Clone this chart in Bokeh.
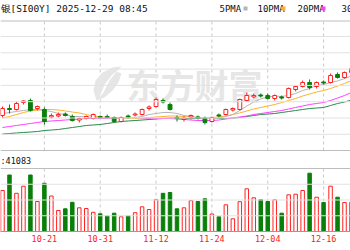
from bokeh.plotting import figure
from bokeh.layouts import column
from bokeh.models import Range1d, FixedTicker, Span, ColumnDataSource
from bokeh.core.properties import value
from bokeh.embed import file_html
from bokeh.resources import INLINE

# ---------------- data ----------------
dates = ["10-13", "10-14", "10-15", "10-16", "10-17", "10-20", "10-21", "10-22", "10-23", "10-24",
         "10-27", "10-28", "10-29", "10-30", "10-31", "11-03", "11-04", "11-05", "11-06", "11-07",
         "11-10", "11-11", "11-12", "11-13", "11-14", "11-17", "11-18", "11-19", "11-20", "11-21",
         "11-24", "11-25", "11-26", "11-27", "11-28", "12-01", "12-02", "12-03", "12-04", "12-05",
         "12-08", "12-09", "12-10", "12-11", "12-12", "12-15", "12-16", "12-17", "12-18", "12-19",
         "12-22"]
open_ = [46.25, 48.0, 47.75, 49.5, 50.0, 48.0, 47.75, 45.88, 46.12, 46.62, 46.0, 45.12, 45.5, 45.5,
         46.0, 46.0, 45.75, 44.75, 46.12, 46.38, 46.5, 48.0, 48.5, 50.0, 49.0, 45.75, 45.25, 45.88,
         45.88, 45.5, 44.75, 46.38, 46.5, 47.62, 47.75, 50.0, 50.88, 51.38, 51.25, 50.5, 50.88, 50.75,
         52.75, 53.5, 54.5, 53.5, 54.62, 54.5, 56.5, 55.75, 57.0]
high = [48.5, 49.0, 49.75, 50.0, 50.5, 48.75, 48.25, 46.75, 47.0, 47.0, 46.5, 45.75, 46.25, 46.75,
        46.25, 46.5, 46.0, 46.0, 46.5, 47.0, 48.0, 48.75, 50.75, 50.5, 49.5, 46.25, 46.0, 46.5, 46.25,
        46.0, 46.0, 46.75, 48.0, 48.25, 50.5, 52.0, 51.75, 51.75, 51.75, 51.5, 51.25, 53.25, 53.75,
        55.0, 55.25, 54.75, 55.0, 56.75, 57.0, 57.25, 58.5]
low = [45.75, 46.75, 47.5, 49.0, 47.25, 47.5, 44.0, 45.5, 45.75, 46.0, 44.75, 44.5, 45.25, 45.25,
       45.5, 45.5, 44.5, 44.5, 45.5, 46.0, 46.25, 47.5, 48.25, 49.25, 47.5, 44.75, 44.75, 45.25, 45.25,
       44.0, 44.5, 45.75, 46.25, 47.25, 47.5, 49.75, 50.5, 50.75, 50.25, 50.0, 50.25, 50.5, 52.25,
       53.25, 52.75, 53.0, 54.0, 54.25, 55.5, 55.5, 56.75]
close = [48.0, 47.75, 49.25, 49.88, 47.5, 48.5, 44.75, 46.25, 46.5, 46.25, 45.0, 45.5, 46.0, 46.5,
         45.75, 45.75, 44.75, 45.75, 45.88, 46.62, 47.75, 48.38, 50.25, 49.62, 47.75, 45.5, 45.62,
         46.25, 45.62, 44.5, 45.75, 46.12, 47.75, 48.0, 50.25, 51.25, 51.25, 51.12, 50.5, 51.25, 50.62,
         53.0, 53.5, 54.5, 53.25, 54.5, 54.38, 56.25, 55.75, 57.0, 58.0]
ma5 = [46.75, 47.0, 47.25, 47.5, 47.75, 47.75, 47.5, 47.25, 46.75, 46.5, 46.0, 46.0, 45.88, 45.75,
       45.75, 45.75, 45.75, 45.75, 45.62, 45.75, 46.0, 46.5, 46.75, 47.0, 47.0, 46.75, 46.25, 46.0,
       45.75, 45.5, 45.5, 45.62, 46.0, 46.5, 47.5, 48.62, 49.62, 50.38, 50.88, 51.08, 51.0, 51.3,
       51.75, 52.5, 53.0, 53.75, 54.0, 54.5, 54.88, 55.5, 56.12]
ma10 = [45.62, 46.0, 46.5, 47.0, 47.38, 47.62, 47.75, 47.75, 47.62, 47.38, 47.12, 46.88, 46.5, 46.12,
        45.88, 45.75, 45.62, 45.62, 45.5, 45.5, 45.62, 45.75, 45.88, 46.0, 46.12, 46.12, 46.0, 45.88,
        45.75, 45.75, 45.75, 45.88, 46.12, 46.5, 46.88, 47.38, 47.88, 48.25, 48.62, 49.0, 49.5, 50.0,
        50.5, 51.12, 51.62, 52.12, 52.5, 53.0, 53.62, 54.25, 55.0]
ma20 = [43.25, 43.5, 43.75, 44.0, 44.25, 44.5, 44.75, 44.88, 45.0, 45.12, 45.25, 45.38, 45.5, 45.5,
        45.5, 45.5, 45.5, 45.5, 45.5, 45.5, 45.5, 45.5, 45.5, 45.5, 45.5, 45.38, 45.25, 45.12, 45.0,
        45.0, 45.0, 45.12, 45.38, 45.62, 45.88, 46.12, 46.5, 46.75, 47.0, 47.25, 47.5, 47.88, 48.25,
        48.62, 49.0, 49.25, 49.5, 50.0, 50.62, 51.25, 52.0]
ma30 = [41.62, 41.75, 41.88, 42.0, 42.12, 42.25, 42.5, 42.62, 42.75, 43.0, 43.25, 43.5, 43.75, 43.88,
        44.0, 44.25, 44.5, 44.75, 44.88, 45.0, 45.12, 45.25, 45.38, 45.5, 45.62, 45.62, 45.5, 45.5,
        45.5, 45.5, 45.5, 45.5, 45.5, 45.62, 45.75, 46.0, 46.25, 46.5, 46.62, 46.75, 47.0, 47.25,
        47.5, 47.75, 48.0, 48.12, 48.25, 48.75, 49.25, 49.62, 50.12]
volume = [57400, 79100, 53480, 63420, 79100, 42000, 67480, 49700, 29400, 31780, 40880, 33180, 32200,
          26880, 24780, 21700, 25620, 20580, 21700, 26320, 34580, 30800, 44520, 53480, 54600, 31780,
          33180, 43120, 42000, 45780, 24500, 20580, 37380, 17780, 41720, 59780, 47180, 44380, 42000,
          44380, 25620, 51380, 52220, 57400, 81620, 48020, 40600, 63420, 48020, 40600, 41083]
label_dates = ["10-21", "10-31", "11-12", "11-24", "12-04", "12-16"]
legend_labels = ["5PMA", "10PMA", "20PMA", "30PMA"]
ma_colors = ["#b4b4b4", "#ffb02e", "#ff40ff", "#2a8a4a"]
header_text = "银[SI00Y] 2025-12-29 08:45"
vol_text = ":41083"
watermark = "东方财富"

for arr in (open_, high, low, close, ma5, ma10, ma20, ma30, volume):
    assert len(arr) == len(dates)

# ---------------- geometry (layout only) ----------------
BAR_PX = 6.98
X0 = -2.0 / BAR_PX
X1 = X0 + 350.0 / BAR_PX
P_TOP = 75.0          # price at the top pixel row
PX_PER_UNIT = 4.0
P_BOT = P_TOP - 151 / PX_PER_UNIT
VOL_PER_PX = 1400.0


def px_x(px):
    return X0 + px / BAR_PX


def py_price(py):
    return P_TOP - py / PX_PER_UNIT


RED = "#ff2020"
GREEN = "#0a7f0a"
GRID = "#e2e2e2"
VGRID = "#c8c8c8"
BORDER = "#bdbdbd"
WM = "#e6e6e6"

idx = list(range(len(dates)))
up = [c >= o for o, c in zip(open_, close)]
src = ColumnDataSource(dict(
    x=idx, open=open_, high=high, low=low, close=close,
    top=[max(o, c) for o, c in zip(open_, close)],
    bottom=[min(o, c) for o, c in zip(open_, close)],
    line=[RED if u else GREEN for u in up],
    fill=["white" if u else GREEN for u in up],
    vol=volume,
))
tick_idx = [dates.index(d) for d in label_dates]

# ---------------- price panel ----------------
pA = figure(width=350, height=151, x_range=Range1d(X0, X1), y_range=Range1d(P_BOT, P_TOP),
            x_axis_location=None, y_axis_location=None, toolbar_location=None,
            output_backend="svg", min_border=0, outline_line_color=None)
pA.xgrid.visible = False
pA.ygrid.visible = False

for py in [36.0, 52.3, 68.6, 84.9, 101.2, 117.5, 133.8]:
    pA.add_layout(Span(location=py_price(py), dimension="width", line_color=GRID, line_width=1))
pA.add_layout(Span(location=py_price(20.5), dimension="width", line_color=BORDER, line_width=1))
pA.add_layout(Span(location=py_price(150.0), dimension="width", line_color=BORDER, line_width=1))
pA.segment(x0=tick_idx, x1=tick_idx, y0=[py_price(150.0)] * len(tick_idx),
           y1=[py_price(20.5)] * len(tick_idx), line_color=VGRID, line_dash="3 3", line_width=1)

# watermark: logo + name
logo_px = [(96, 100), (93, 90), (95, 80), (102, 72), (112, 67), (121, 66), (116, 71),
           (121, 73), (118, 82), (112, 90), (104, 97)]
pA.patch([px_x(a) for a, b in logo_px], [py_price(b) for a, b in logo_px],
         fill_color=WM, line_color=None)
cut_px = [(99, 97), (104, 84), (112, 74), (117, 70), (109, 80), (103, 92)]
pA.patch([px_x(a) for a, b in cut_px], [py_price(b) for a, b in cut_px],
         fill_color="white", line_color=None)
pA.text(x=[px_x(126)], y=[py_price(84)], text=[watermark], text_color=WM,
        text_font=value("Noto Sans CJK SC"), text_font_size=value("34px"),
        text_font_style="bold", text_baseline="middle", text_align="left")

# moving averages
for ma, col in zip([ma30, ma20, ma10, ma5], ma_colors[::-1]):
    pA.line(idx, ma, line_color=col, line_width=1)

# candles
pA.segment(x0="x", x1="x", y0="high", y1="low", line_color="line", line_width=1, source=src)
pA.vbar(x="x", top="top", bottom="bottom", width=0.55, fill_color="fill", line_color="line",
        line_width=1, source=src)

# header and legend
pA.text(x=[px_x(0)], y=[py_price(8)], text=[header_text], text_color="#111111",
        text_font=value("DejaVu Sans Mono"), text_font_size=value("9.5px"),
        text_baseline="middle", text_align="left")
legend_px = [219, 257, 297, 341]
mark_px = [245, 283, 323, 369]
pA.text(x=[px_x(v) for v in legend_px], y=[py_price(8)] * 4, text=legend_labels,
        text_color="#111111", text_font=value("DejaVu Sans Mono"), text_font_size=value("9px"),
        text_baseline="middle", text_align="left")
pA.rect(x=[px_x(v) for v in mark_px], y=[py_price(8)] * 4, width=4, height=4,
        width_units="screen", height_units="screen", fill_color=ma_colors, line_color=None)

# ---------------- volume panel ----------------
pB = figure(width=350, height=99, x_range=pA.x_range, y_range=Range1d(0, 80 * VOL_PER_PX),
            y_axis_location=None, toolbar_location=None, output_backend="svg",
            min_border_left=0, min_border_right=0, min_border_top=0, min_border_bottom=19,
            outline_line_color=None)
pB.xgrid.visible = False
pB.ygrid.visible = False
vol_top = 63 * VOL_PER_PX
for k in (1, 2, 3):
    pB.add_layout(Span(location=vol_top * k / 4, dimension="width", line_color=GRID, line_width=1))
pB.add_layout(Span(location=vol_top, dimension="width", line_color=BORDER, line_width=1))
pB.segment(x0=tick_idx, x1=tick_idx, y0=[0] * len(tick_idx), y1=[vol_top] * len(tick_idx),
           line_color=VGRID, line_dash="3 3", line_width=1)
pB.vbar(x="x", top="vol", bottom=0, width=0.5, fill_color="fill", line_color="line",
        line_width=1, source=src)
pB.text(x=[px_x(0)], y=[(80 - 9) * VOL_PER_PX], text=[vol_text], text_color="#111111",
        text_font=value("DejaVu Sans Mono"), text_font_size=value("8.5px"),
        text_baseline="middle", text_align="left")

ax = pB.xaxis[0]
ax.ticker = FixedTicker(ticks=tick_idx)
ax.major_label_overrides = {i: d for i, d in zip(tick_idx, label_dates)}
ax.major_tick_line_color = None
ax.minor_tick_line_color = None
ax.major_tick_out = 0
ax.major_tick_in = 0
ax.axis_line_color = "#9a9a9a"
ax.major_label_text_color = "#ff2020"
ax.major_label_text_font = "DejaVu Sans Mono"
ax.major_label_text_font_size = "8.5px"
ax.major_label_standoff = 3

layout = column(pA, pB, spacing=0)
open("out.html", "w").write(file_html(layout, INLINE))
